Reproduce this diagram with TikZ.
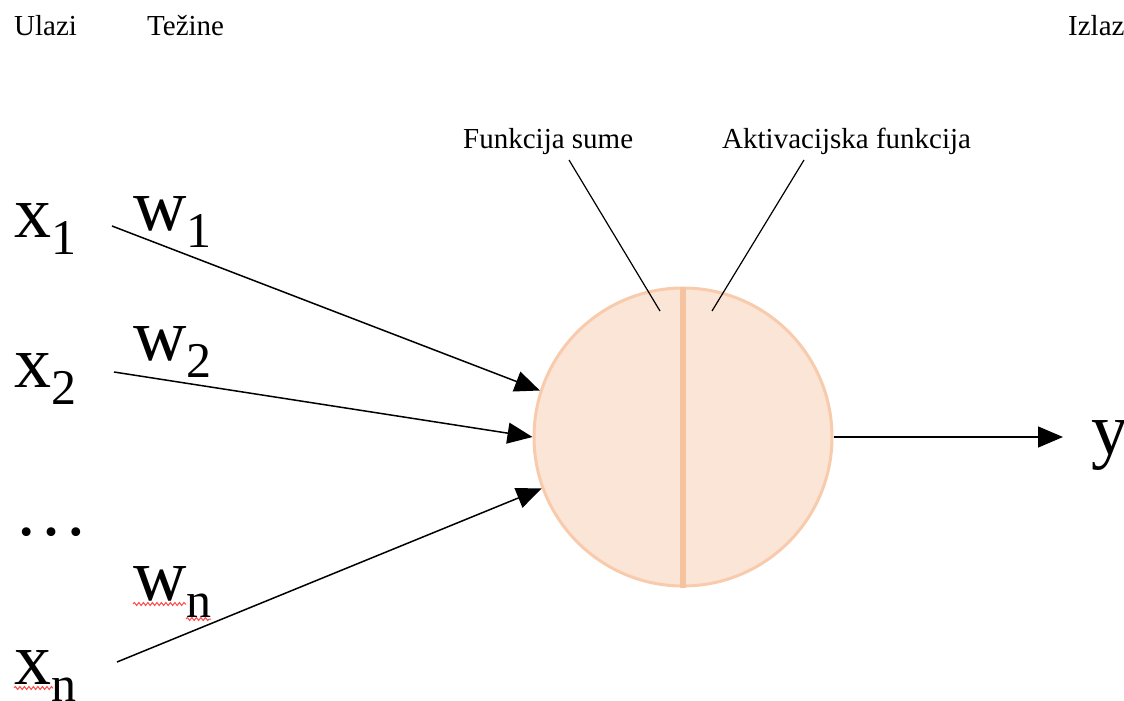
\documentclass[tikz,border=0pt]{standalone}
\usepackage{fontspec}
\setmainfont{Liberation Serif}
\usetikzlibrary{arrows.meta,decorations.pathmorphing}
\definecolor{neufill}{HTML}{FBE5D6}
\definecolor{neuline}{HTML}{F8CBAD}
\definecolor{neudiv}{HTML}{F5C3A0}
\newcommand\symsub[2]{{\fontsize{74}{74}\selectfont #1}\raisebox{-17pt}{\fontsize{50}{50}\selectfont #2}}
\begin{document}
\begin{tikzpicture}[x=1pt,y=-1pt,
  lab/.style={font=\fontsize{29}{29}\selectfont, inner sep=0, anchor=base west},
  big/.style={inner sep=0, anchor=base west},
  conn/.style={line width=1.5pt, -{Triangle[length=25pt,width=21pt]}},
  callout/.style={line width=1.2pt},
  squig/.style={red!70!white, line width=1pt, decorate, decoration={snake, segment length=4.5pt, amplitude=1.5pt}}]
\useasboundingbox (0,0) rectangle (1124,701);

% header labels
\node[lab] (ulazi) at (14,36) {Ulazi};
\node[lab] (tezine) at (147,36) {Težine};
\node[lab] (izlaz) at (1068,36) {Izlaz};
\node[lab] (fsum) at (463,148) {Funkcija sume};
\node[lab] (fact) at (722,148) {Aktivacijska funkcija};

% inputs and weights
\node[big] (x1) at (14,237) {\symsub{x}{1}};
\node[big] (w1) at (133,230) {\symsub{w}{1}};
\node[big] (x2) at (14,387) {\symsub{x}{2}};
\node[big] (w2) at (133,360) {\symsub{w}{2}};
\node[big] (dots) at (14,535) {\fontsize{74}{74}\selectfont …};
\node[big] (wn) at (133,600) {\symsub{w}{n}};
\node[big] (xn) at (14,684) {\symsub{x}{n}};
\node[big] (yout) at (1091,454) {\fontsize{74}{74}\selectfont y};

% spell-check underlines
\draw[squig] (133,604) -- (186,604);
\draw[squig] (186,619) -- (211,619);
\draw[squig] (14,688) -- (53,688);

% neuron
\node[circle, draw=neuline, fill=neufill, line width=3pt, minimum size=298pt, inner sep=0] (neuron) at (683,437) {};
\draw[neudiv, line width=6pt] (neuron.north) -- (neuron.south);

% connectors
\coordinate (s1) at (112,226);
\coordinate (s2) at (114,372);
\coordinate (s3) at (117,662);
\coordinate (out) at (1063,437);
\draw[conn] (s1) -- (neuron.162.5);
\draw[conn] (s2) -- (neuron.west);
\draw[conn] (s3) -- (neuron.200);
\draw[conn] (neuron.east) -- (out);

% callouts
\coordinate (c1a) at (569,160);
\coordinate (c1b) at (660,311);
\coordinate (c2a) at (804,160);
\coordinate (c2b) at (712,311);
\draw[callout] (c1a) -- (c1b);
\draw[callout] (c2a) -- (c2b);
\end{tikzpicture}
\end{document}
